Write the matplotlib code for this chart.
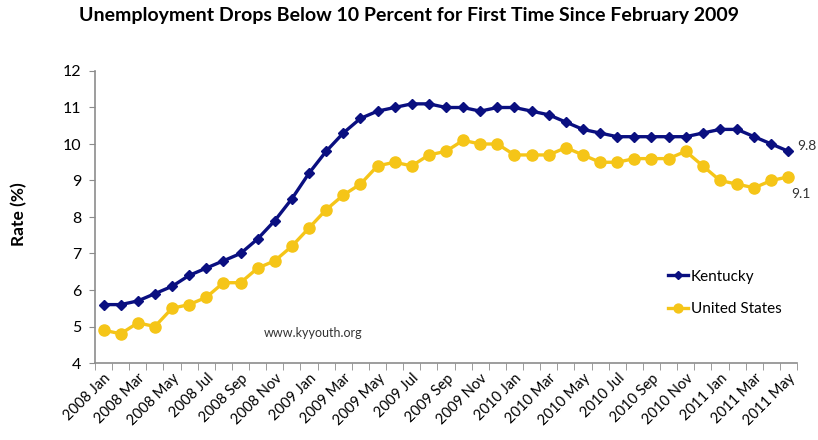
import matplotlib
matplotlib.use("Agg")
import matplotlib.pyplot as plt
from matplotlib.ticker import FixedLocator

plt.rcParams['font.family'] = ['Lato', 'DejaVu Sans']

years = ["2008"] * 12 + ["2009"] * 12 + ["2010"] * 12 + ["2011"] * 5
month_names = ["Jan", "Feb", "Mar", "Apr", "May", "Jun", "Jul", "Aug", "Sep", "Oct", "Nov", "Dec"]
months = [f"{y} {month_names[i % 12]}" for i, y in enumerate(years)]

kentucky = [5.6, 5.6, 5.7, 5.9, 6.1, 6.4, 6.6, 6.8, 7.0, 7.4, 7.9, 8.5,
            9.2, 9.8, 10.3, 10.7, 10.9, 11.0, 11.1, 11.1, 11.0, 11.0, 10.9, 11.0,
            11.0, 10.9, 10.8, 10.6, 10.4, 10.3, 10.2, 10.2, 10.2, 10.2, 10.2, 10.3,
            10.4, 10.4, 10.2, 10.0, 9.8]
united_states = [4.9, 4.8, 5.1, 5.0, 5.5, 5.6, 5.8, 6.2, 6.2, 6.6, 6.8, 7.2,
                 7.7, 8.2, 8.6, 8.9, 9.4, 9.5, 9.4, 9.7, 9.8, 10.1, 10.0, 10.0,
                 9.7, 9.7, 9.7, 9.9, 9.7, 9.5, 9.5, 9.6, 9.6, 9.6, 9.8, 9.4,
                 9.0, 8.9, 8.8, 9.0, 9.1]

navy = "#0A0F80"
gold = "#F5C518"
axis_gray = "#8C8C8C"

fig = plt.figure(figsize=(8.18, 4.40), dpi=100)
ax = fig.add_axes([95 / 818, 77 / 440, 702 / 818, 292 / 440])

x = list(range(len(months)))
ax.plot(x, kentucky, color=navy, lw=2.4, marker="D", ms=5, label="Kentucky", zorder=3)
ax.plot(x, united_states, color=gold, lw=2.4, marker="o", ms=8, label="United States", zorder=2)

ax.set_xlim(-0.5, len(months) - 0.5)
ax.set_ylim(4, 12)
ax.set_yticks(range(4, 13))
ax.tick_params(axis="y", direction="out", length=4, color=axis_gray, labelsize=11.5, pad=6)

ax.set_xticks(x[::2])
ax.set_xticklabels(months[::2], rotation=45, ha="right", rotation_mode="anchor", fontsize=10.5)
ax.tick_params(axis="x", which="major", length=0, pad=6)
ax.xaxis.set_minor_locator(FixedLocator([i - 0.5 for i in range(len(months) + 1)]))
ax.tick_params(axis="x", which="minor", direction="out", length=5, color=axis_gray)

for side in ("top", "right"):
    ax.spines[side].set_visible(False)
for side in ("left", "bottom"):
    ax.spines[side].set_color(axis_gray)
    ax.spines[side].set_linewidth(1.2)

fig.text(19 / 818, 1 - 214 / 440, "Rate (%)", rotation=90, ha="center", va="center",
         fontsize=12.5, fontweight="bold")

fig.text(0.5, 1 - 16 / 440, "Unemployment Drops Below 10 Percent for First Time Since February 2009",
         ha="center", va="center", fontsize=14, fontweight="bold")

ax.annotate(f"{kentucky[-1]:.1f}", xy=(x[-1], kentucky[-1]), xytext=(6, 4),
            textcoords="offset points", ha="left", va="center", fontsize=10, color="#333333")
ax.annotate(f"{united_states[-1]:.1f}", xy=(x[-1], united_states[-1]), xytext=(9, -12),
            textcoords="offset points", ha="center", va="center", fontsize=10, color="#333333")

ax.text(0.31, 0.103, "www.kyyouth.org", transform=ax.transAxes, ha="center", va="center",
        fontsize=9, color="#333333")

ax.legend(loc="center left", bbox_to_anchor=((668 - 95) / 702, (363 - 293) / 292), frameon=False,
          fontsize=11, handlelength=1.3, handletextpad=0.2, labelspacing=1.2, markerscale=0.8,
          borderpad=0, borderaxespad=0)

fig.savefig("out.png", dpi=100)
